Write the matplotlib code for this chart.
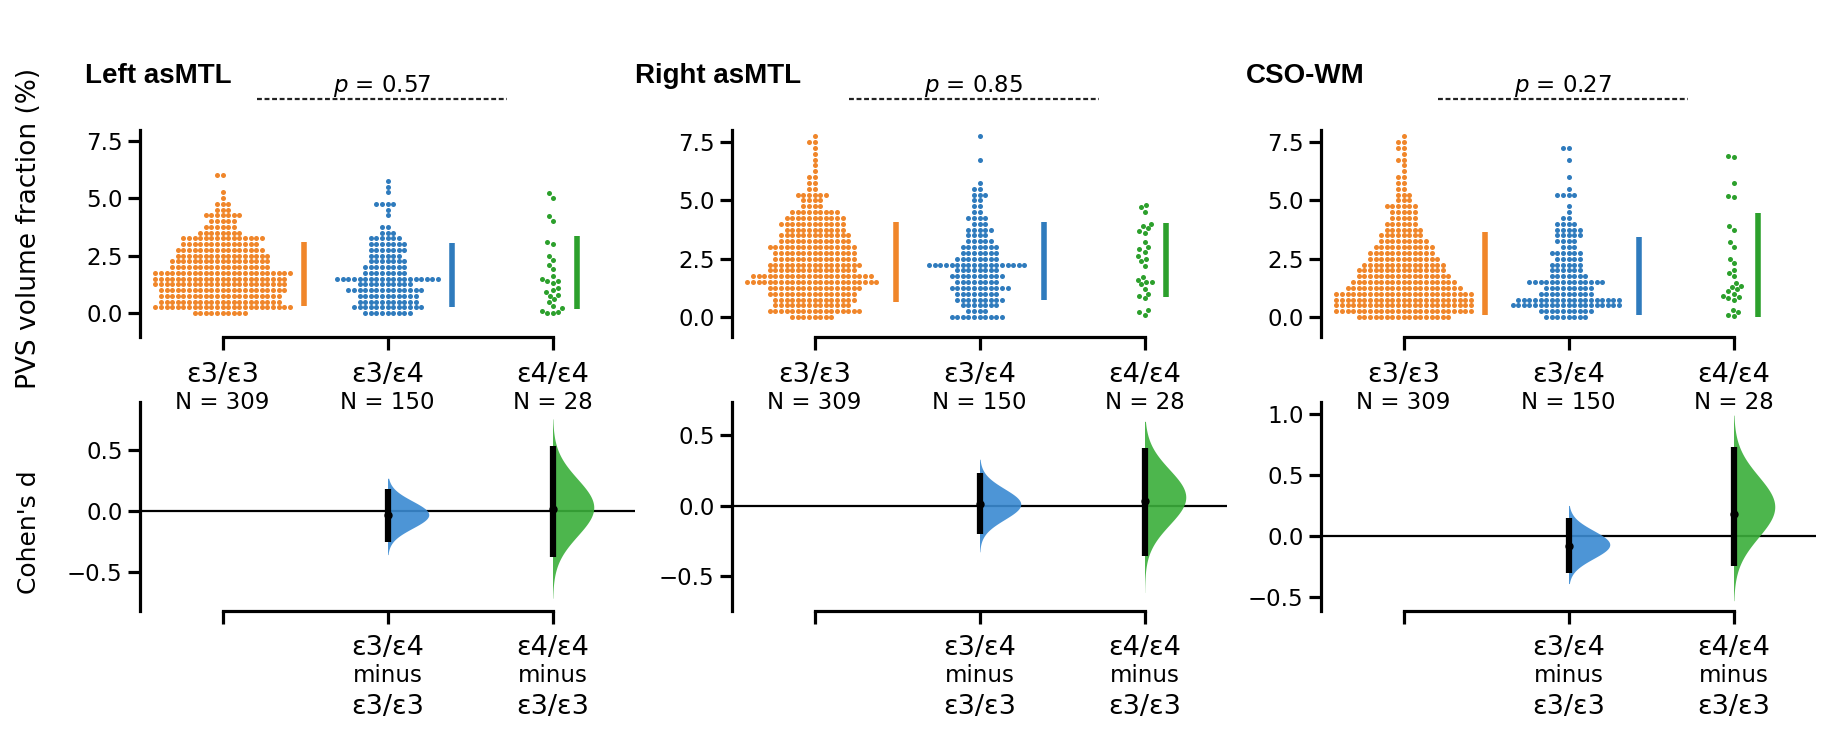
import numpy as np
import matplotlib
matplotlib.use("Agg")
import matplotlib.pyplot as plt
from matplotlib.transforms import blended_transform_factory

# ---------------- data ----------------
panel_titles = ["Left asMTL", "Right asMTL", "CSO-WM"]
p_values = ["0.57", "0.85", "0.27"]
groups = ["ε3/ε3", "ε3/ε4", "ε4/ε4"]
group_n = [309, 150, 28]

# swarm values read as counts per 0.25 level (0.0 ... 7.75)
levels = [0.0, 0.25, 0.5, 0.75, 1.0, 1.25, 1.5, 1.75, 2.0, 2.25, 2.5, 2.75,
          3.0, 3.25, 3.5, 3.75, 4.0, 4.25, 4.5, 4.75, 5.0, 5.25, 5.5, 5.75,
          6.0, 6.25, 6.5, 6.75, 7.0, 7.25, 7.5, 7.75]
left_e33_counts = [10, 25, 22, 22, 23, 24, 24, 25, 18, 18, 17, 16, 14, 15, 8, 6,
                   5, 7, 3, 3, 1, 1, 0, 0, 2, 0, 0, 0, 0, 0, 0, 0]
left_e34_counts = [9, 13, 11, 11, 14, 10, 19, 8, 8, 7, 6, 7, 7, 6, 3, 2,
                   0, 1, 1, 4, 0, 1, 1, 1, 0, 0, 0, 0, 0, 0, 0, 0]
left_e44_values = [5.2, 5.0, 4.2, 4.0, 3.1, 3.0, 2.5, 2.3, 2.1, 1.9, 1.6, 1.5, 1.4, 1.4,
                   1.3, 1.1, 1.0, 0.9, 0.8, 0.75, 0.6, 0.5, 0.3, 0.2, 0.1, 0.05, 0.0, 0.0]
right_e33_counts = [8, 17, 14, 15, 16, 17, 24, 22, 16, 17, 15, 15, 16, 13, 13, 11,
                    12, 11, 9, 4, 4, 6, 2, 2, 2, 1, 1, 1, 1, 1, 2, 1]
right_e34_counts = [10, 4, 7, 9, 8, 11, 8, 10, 8, 18, 8, 7, 7, 5, 4, 5,
                    3, 4, 2, 2, 2, 3, 2, 1, 0, 0, 0, 1, 0, 0, 0, 1]
right_e44_values = [4.8, 4.7, 4.5, 4.0, 3.9, 3.8, 3.7, 3.6, 3.2, 3.0, 2.9, 2.8, 2.6, 2.5,
                    2.4, 2.2, 1.7, 1.6, 1.5, 1.5, 1.4, 1.2, 1.0, 0.9, 0.8, 0.3, 0.2, 0.1]
cso_e33_counts = [17, 25, 25, 25, 25, 21, 19, 17, 16, 15, 13, 12, 11, 9, 8, 7,
                  6, 5, 5, 6, 3, 3, 2, 2, 2, 1, 1, 2, 1, 2, 2, 1]
cso_e34_counts = [8, 10, 20, 19, 10, 9, 14, 7, 6, 6, 5, 6, 3, 4, 5, 5,
                  4, 2, 1, 1, 0, 4, 1, 0, 1, 0, 0, 1, 0, 2, 0, 0]
cso_e44_values = [6.9, 6.85, 5.75, 5.2, 5.15, 3.9, 3.75, 3.2, 3.0, 2.5, 2.3, 2.0, 1.9, 1.75,
                  1.45, 1.35, 1.3, 1.2, 1.1, 1.0, 0.9, 0.85, 0.8, 0.75, 0.3, 0.2, 0.1, 0.05]

# mean +/- SD bars (lower, upper) per group
bar_low = [[0.30, 0.26, 0.17], [0.65, 0.73, 0.86], [0.09, 0.09, 0.00]]
bar_high = [[3.07, 3.03, 3.33], [4.09, 4.09, 4.05], [3.66, 3.45, 4.44]]

# Cohen's d vs ε3/ε3: effect, 95% CI, bootstrap extent, distribution mode
d_effect = [[-0.03, 0.02], [0.01, 0.03], [-0.08, 0.18]]
d_ci_low = [[-0.26, -0.38], [-0.20, -0.36], [-0.30, -0.25]]
d_ci_high = [[0.18, 0.54], [0.23, 0.41], [0.15, 0.73]]
d_ext_low = [[-0.36, -0.72], [-0.33, -0.62], [-0.39, -0.53]]
d_ext_high = [[0.27, 0.76], [0.33, 0.60], [0.25, 0.99]]
d_mode = [[-0.03, 0.03], [0.01, 0.06], [-0.07, 0.24]]

colors = ["#f0862a", "#2f7bbd", "#2ca02c"]
violin_colors = ["#f0862a", "#3a8ad2", "#3aae3a"]


def expand(counts):
    out = []
    for lv, c in zip(levels, counts):
        out += [lv] * c
    return out


swarm_data = [
    [expand(left_e33_counts), expand(left_e34_counts), left_e44_values],
    [expand(right_e33_counts), expand(right_e34_counts), right_e44_values],
    [expand(cso_e33_counts), expand(cso_e34_counts), cso_e44_values],
]

# ---------------- layout ----------------
W, H = 1838, 732
fig = plt.figure(figsize=(W / 100, H / 100), dpi=100)
plt.rcParams["font.family"] = ["DejaVu Sans"]

def fy(px):
    return 1 - px / H

lefts = [140, 732, 1321]
ax_w = 495
top_box = (130, 337)
bot_box = (402, 611)
top_ylims = [(-1.04, 7.96), (-0.857, 8.016), (-0.857, 8.016)]
bot_ylims = [(-0.826, 0.90), (-0.752, 0.738), (-0.615, 1.098)]
bot_ticks = [[-0.5, 0.0, 0.5], [-0.5, 0.0, 0.5], [-0.5, 0.0, 0.5, 1.0]]
title_x = [85, 635, 1246]

TICK_FS = 16.5
SPINE_LW = 2.3


def style_axes(ax):
    ax.patch.set_visible(False)
    for s in ["top", "right"]:
        ax.spines[s].set_visible(False)
    for s in ["left", "bottom"]:
        ax.spines[s].set_linewidth(SPINE_LW)
    ax.spines["bottom"].set_bounds(0, 2)
    ax.set_xticks([0, 1, 2])
    ax.set_xticklabels(["", "", ""])
    ax.tick_params(axis="both", length=9, width=SPINE_LW, labelsize=TICK_FS)
    ax.set_xlim(-0.5, 2.5)


def beeswarm(ys, d):
    ys = np.asarray(ys, float)
    order = np.argsort(ys, kind="stable")
    xs = np.zeros(len(ys))
    px_, py_ = [], []
    for i in order:
        y = ys[i]
        nb = [(a, b) for a, b in zip(px_, py_) if abs(b - y) < d]
        cands = [0.0]
        for a, b in nb:
            dx = np.sqrt(max(d * d - (b - y) ** 2, 0.0))
            cands += [a - dx, a + dx]
        cands = sorted(cands, key=lambda c: (abs(c), c))
        chosen = cands[-1]
        for c in cands:
            if all((c - a) ** 2 + (y - b) ** 2 >= d * d - 1e-6 for a, b in nb):
                chosen = c
                break
        xs[i] = chosen
        px_.append(chosen)
        py_.append(y)
    return xs


for p in range(3):
    L = lefts[p]
    ax_t = fig.add_axes([L / W, fy(top_box[1]), ax_w / W, (top_box[1] - top_box[0]) / H])
    ax_b = fig.add_axes([L / W, fy(bot_box[1]), ax_w / W, (bot_box[1] - bot_box[0]) / H])
    for ax in (ax_t, ax_b):
        style_axes(ax)
    ax_t.set_ylim(*top_ylims[p])
    ax_t.set_yticks([0, 2.5, 5.0, 7.5])
    ax_b.set_ylim(*bot_ylims[p])
    ax_b.set_yticks(bot_ticks[p])

    # pixel scales
    x_ppu = ax_w / 3.0
    y_ppu = (top_box[1] - top_box[0]) / (top_ylims[p][1] - top_ylims[p][0])

    trans_t = blended_transform_factory(ax_t.transData, fig.transFigure)
    for g in range(3):
        vals = np.asarray(swarm_data[p][g], float)
        offs_px = beeswarm(vals * y_ppu, 5.6)
        ax_t.scatter(g + offs_px / x_ppu, vals, s=13, color=colors[g],
                     linewidths=0, zorder=3, clip_on=False)
        bx = g + (np.max(np.abs(offs_px)) + 14) / x_ppu
        ax_t.plot([bx, bx], [bar_low[p][g], bar_high[p][g]], color=colors[g],
                  lw=4, solid_capstyle="butt", zorder=3)
        ax_t.text(g, fy(382), groups[g], transform=trans_t, ha="center",
                  va="baseline", fontsize=19.5, zorder=10)
        ax_t.text(g, fy(409), f"N = {group_n[g]}", transform=trans_t,
                  ha="center", va="baseline", fontsize=TICK_FS, zorder=10)

    # p-value annotation
    ax_t.text(0.965, fy(92), "$p$ = " + p_values[p], transform=trans_t,
              ha="center", va="baseline", fontsize=16.5)
    ax_t.plot([0.21, 1.725], [fy(99), fy(99)], transform=trans_t, clip_on=False,
              color="#222222", lw=1.6, ls=(0, (2.2, 1.2)))

    fig.text(title_x[p] / W, fy(83), panel_titles[p], fontsize=20, fontweight="bold",
             family="Liberation Sans", ha="left", va="baseline")

    # contrast axes
    ax_b.axhline(0, color="black", lw=1.6, zorder=1)
    trans_b = blended_transform_factory(ax_b.transData, fig.transFigure)
    for k, g in enumerate([1, 2]):
        lo, hi = d_ext_low[p][k], d_ext_high[p][k]
        ys = np.linspace(lo, hi, 300)
        sd = (d_ci_high[p][k] - d_ci_low[p][k]) / 3.92
        dens = np.exp(-0.5 * ((ys - d_mode[p][k]) / sd) ** 2)
        wid = dens / dens.max() * 0.25
        ax_b.fill_betweenx(ys, g, g + wid, color=violin_colors[g], alpha=0.9,
                           lw=0, zorder=2)
        ax_b.plot([g, g], [d_ci_low[p][k], d_ci_high[p][k]], color="black",
                  lw=4.5, solid_capstyle="butt", zorder=4)
        ax_b.plot([g], [d_effect[p][k]], "o", color="black", ms=5, zorder=5)
        ax_b.text(g, fy(655), groups[g], transform=trans_b, ha="center",
                  va="baseline", fontsize=19.5)
        ax_b.text(g, fy(682), "minus", transform=trans_b, ha="center",
                  va="baseline", fontsize=TICK_FS)
        ax_b.text(g, fy(714), groups[0], transform=trans_b, ha="center",
                  va="baseline", fontsize=19.5)

fig.text(29 / W, fy(228), "PVS volume fraction (%)", rotation=90, ha="center",
         va="center", fontsize=19)
fig.text(29 / W, fy(532), "Cohen's d", rotation=90, ha="center", va="center",
         fontsize=18)

fig.savefig("out.png", dpi=100)
